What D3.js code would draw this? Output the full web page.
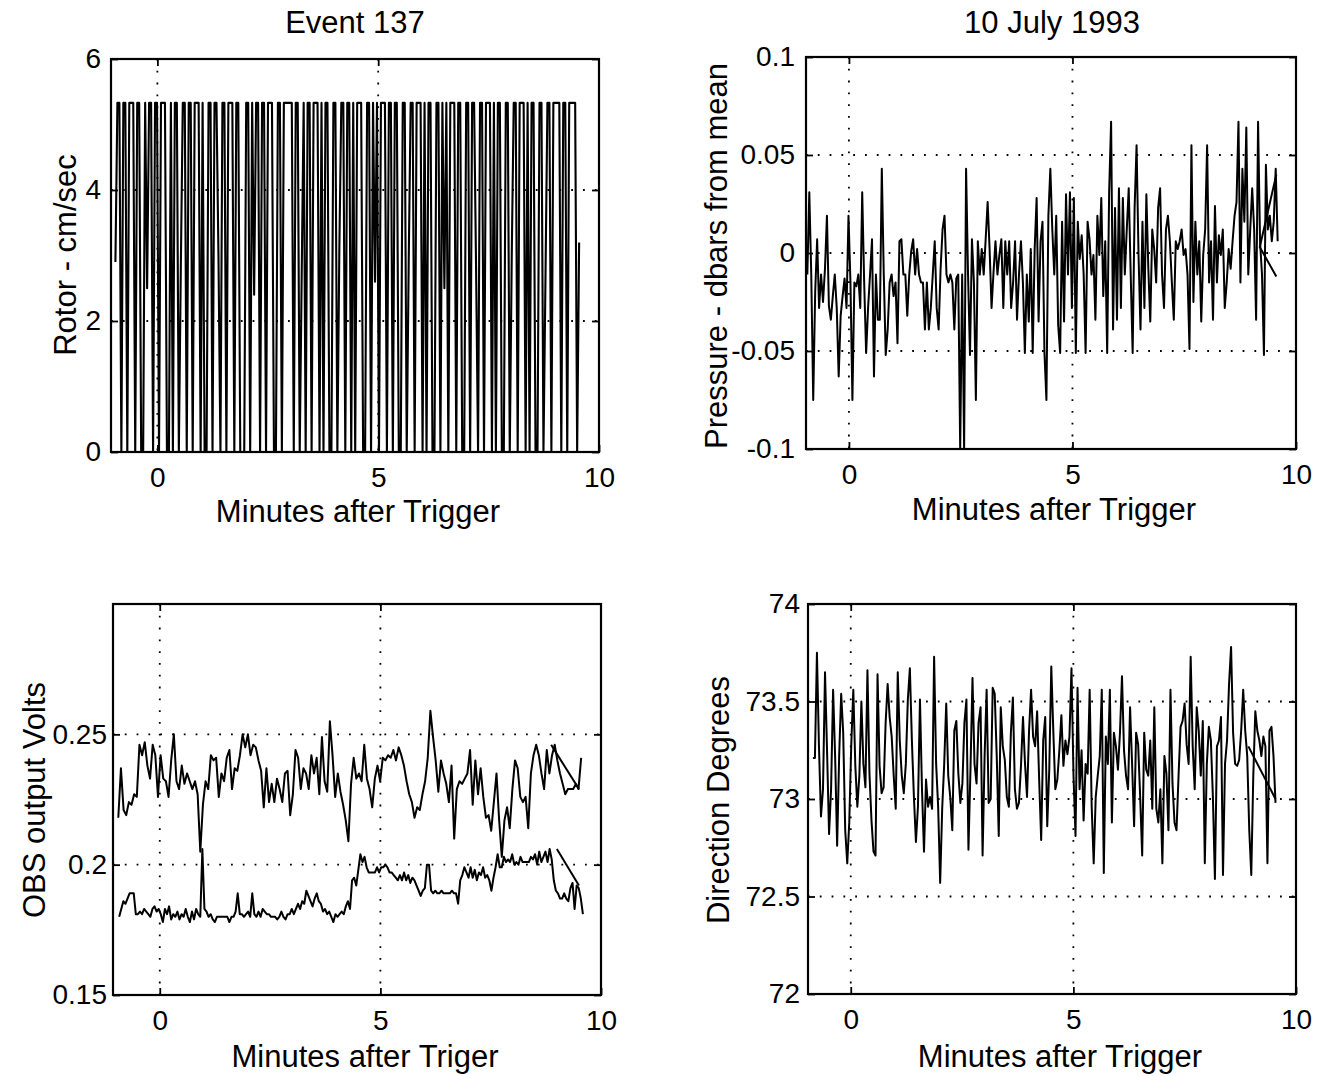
<!DOCTYPE html>
<html><head><meta charset="utf-8">
<script src="https://cdn.jsdelivr.net/npm/d3@7"></script>
<style>
body{margin:0;background:#fff}
text{font-family:"Liberation Sans",Arial,Helvetica,sans-serif;fill:#000}
</style>
</head><body>
<svg id="c" width="1330" height="1076"></svg>
<script>
// ---------------- DATA ----------------
const xTicks = [0, 5, 10];

const rotorSpan = [-0.95, 9.55];
const rotorValues = [
2.9,5.33,5.33,0,5.33,5.33,0,5.33,5.33,5.33,
0,5.33,5.33,0,0,5.33,2.5,5.33,5.33,0,
5.33,5.33,0,5.33,5.33,5.33,0,0,5.33,0,
5.33,5.33,0,2.8,5.33,5.33,0,5.33,5.33,0,
5.33,5.33,5.33,0,5.33,0,0,5.33,5.33,0,
5.33,5.33,3.0,0,5.33,5.33,0,5.33,5.33,5.33,
0,5.33,5.33,0,0,0,5.33,5.33,0,5.33,
2.4,5.33,5.33,0,5.33,5.33,0,5.33,5.33,5.33,
0,0,5.33,5.33,0,5.33,5.33,5.33,5.33,5.33,
0,5.33,5.33,0,2.7,5.33,0,5.33,5.33,0,
5.33,5.33,5.33,0,5.33,0,5.33,5.33,0,0,
5.33,5.33,0,3.1,5.33,5.33,0,5.33,5.33,0,
5.33,0,5.33,5.33,5.33,0,0,5.33,5.33,0,
5.33,2.6,5.33,0,5.33,5.33,5.33,0,5.33,5.33,
0,5.33,5.33,0,0,5.33,5.33,0,2.9,5.33,
5.33,0,5.33,5.33,5.33,0,5.33,0,5.33,5.33,
0,0,5.33,5.33,0,5.33,2.5,5.33,0,5.33,
5.33,5.33,0,5.33,5.33,0,0,5.33,5.33,0,
5.33,5.33,2.8,0,5.33,5.33,0,5.33,5.33,5.33,
0,5.33,0,5.33,5.33,0,0,5.33,5.33,0,
3.0,5.33,5.33,0,5.33,5.33,5.33,0,5.33,0,
5.33,5.33,0,0,5.33,5.33,0,2.6,5.33,5.33,
0,5.33,5.33,5.33,5.33,0,5.33,5.33,0,5.33,
5.33,5.33,5.33,0,3.2];
const rotorTicks = [0, 2, 4, 6];

const pressureSpan = [-0.93, 9.59];
const pressureValues = [
-0.011,0.031,-0.011,-0.075,-0.020,0.007,-0.028,-0.011,-0.025,-0.008,
0.019,-0.027,-0.034,-0.022,-0.011,-0.028,-0.063,-0.032,-0.022,-0.013,
-0.028,0.019,-0.015,-0.075,-0.015,-0.017,-0.011,-0.028,0.031,-0.015,
-0.051,-0.028,-0.011,0.007,-0.063,-0.011,-0.034,-0.034,0.043,-0.011,
-0.052,-0.039,-0.015,-0.011,-0.022,-0.015,-0.046,0.006,0.007,-0.011,
-0.011,-0.032,-0.011,0.001,0.007,-0.011,0.002,-0.011,-0.015,-0.015,
-0.039,-0.015,-0.039,-0.028,-0.011,0.006,-0.028,-0.039,-0.008,0.012,
0.019,-0.011,-0.015,-0.011,-0.015,-0.039,-0.013,-0.011,-0.1,-0.011,
-0.1,0.043,-0.011,-0.052,0.007,-0.015,-0.075,0.006,-0.011,0.002,
-0.011,0.007,0.026,0.002,-0.028,-0.010,0.006,-0.011,-0.001,0.007,
-0.028,0.006,-0.011,0.006,-0.028,-0.015,0.006,-0.034,-0.011,0.006,
-0.015,-0.051,-0.011,-0.035,0.002,-0.051,0.002,0.028,-0.035,0.006,
0.016,-0.051,-0.075,0.019,0.043,0.012,-0.011,0.019,-0.037,-0.051,
0.016,-0.035,0.030,-0.011,0.031,-0.028,0.028,-0.051,0.016,-0.003,
0.009,-0.011,-0.051,0.016,0.007,-0.011,-0.001,-0.034,0.019,-0.001,
0.028,-0.022,0.006,-0.051,0.031,0.067,-0.039,0.023,-0.034,0.033,
-0.028,0.028,-0.011,0.012,0.033,-0.011,-0.051,0.023,0.055,-0.001,
-0.039,0.016,-0.028,0.030,-0.008,-0.035,0.012,0.002,-0.015,0.023,
0.033,-0.011,-0.028,0.012,0.019,0.006,-0.015,-0.034,0.006,0.002,
0.006,0.012,-0.001,0.002,-0.011,-0.049,0.055,-0.025,0.016,-0.011,
0.006,-0.035,-0.001,0.012,0.055,-0.015,0.006,-0.034,0.024,-0.015,
0.009,-0.001,0.012,-0.028,-0.015,0.002,-0.008,0.006,0.019,0.026,
0.067,-0.015,0.043,0.016,0.064,-0.011,0.012,0.033,0.012,-0.034,
0.067,0.006,-0.011,-0.052,0.045,0.012,0.019,0.006,0.016,0.043,
0.006];
const pressureWrap = [[9.56,0.040],[9.19,0.003],[9.56,-0.012]];
const pressureTicks = [-0.1, -0.05, 0, 0.05, 0.1];

const obsUpperSpan = [-0.94, 9.55];
const obsUpperValues = [
0.218,0.237,0.221,0.219,0.224,0.223,0.227,0.226,0.246,0.242,
0.247,0.238,0.233,0.246,0.242,0.226,0.242,0.233,0.232,0.226,
0.240,0.250,0.232,0.229,0.238,0.231,0.235,0.232,0.229,0.232,
0.227,0.205,0.223,0.232,0.229,0.242,0.240,0.241,0.226,0.235,
0.232,0.241,0.244,0.229,0.237,0.236,0.242,0.250,0.245,0.250,
0.242,0.246,0.245,0.240,0.236,0.222,0.237,0.224,0.231,0.224,
0.233,0.229,0.224,0.235,0.236,0.219,0.227,0.244,0.241,0.229,
0.237,0.235,0.229,0.242,0.235,0.241,0.227,0.249,0.232,0.228,
0.255,0.242,0.226,0.235,0.228,0.223,0.217,0.209,0.231,0.241,
0.233,0.235,0.232,0.246,0.233,0.229,0.222,0.233,0.238,0.232,
0.241,0.240,0.242,0.241,0.244,0.240,0.245,0.242,0.238,0.232,
0.227,0.224,0.218,0.222,0.221,0.227,0.232,0.241,0.259,0.249,
0.240,0.228,0.240,0.235,0.231,0.224,0.238,0.210,0.229,0.232,
0.231,0.233,0.235,0.244,0.223,0.240,0.227,0.237,0.226,0.218,
0.219,0.213,0.224,0.235,0.217,0.203,0.217,0.222,0.214,0.229,
0.240,0.237,0.226,0.224,0.226,0.214,0.235,0.242,0.246,0.242,
0.235,0.229,0.244,0.235,0.242,0.246,0.240,0.235,0.231,0.227,
0.229,0.229,0.229,0.231,0.229,0.241];
const obsUpperWrap = [[8.87,0.246],[9.50,0.229]];

const obsLowerSpan = [-0.92, 9.59];
const obsLowerValues = [
0.180,0.183,0.186,0.185,0.187,0.189,0.189,0.189,0.181,0.181,
0.182,0.181,0.183,0.182,0.181,0.180,0.183,0.184,0.182,0.183,
0.181,0.178,0.183,0.181,0.184,0.179,0.181,0.180,0.182,0.179,
0.181,0.180,0.183,0.180,0.178,0.182,0.179,0.183,0.181,0.180,
0.206,0.183,0.182,0.180,0.181,0.179,0.178,0.180,0.180,0.180,
0.180,0.180,0.180,0.178,0.180,0.180,0.182,0.189,0.181,0.181,
0.180,0.181,0.182,0.180,0.189,0.181,0.180,0.182,0.180,0.183,
0.182,0.181,0.181,0.180,0.180,0.180,0.179,0.180,0.182,0.180,
0.179,0.181,0.181,0.183,0.181,0.183,0.185,0.183,0.186,0.185,
0.190,0.188,0.186,0.184,0.187,0.189,0.186,0.185,0.182,0.183,
0.181,0.182,0.180,0.178,0.181,0.180,0.181,0.182,0.181,0.184,
0.186,0.183,0.194,0.195,0.192,0.198,0.204,0.201,0.203,0.199,
0.197,0.197,0.197,0.197,0.199,0.197,0.199,0.199,0.200,0.199,
0.197,0.197,0.196,0.195,0.194,0.196,0.194,0.197,0.194,0.196,
0.193,0.195,0.194,0.192,0.190,0.188,0.190,0.191,0.200,0.200,
0.190,0.189,0.190,0.189,0.189,0.190,0.189,0.189,0.189,0.189,
0.190,0.189,0.189,0.185,0.194,0.196,0.199,0.197,0.195,0.199,
0.195,0.198,0.194,0.197,0.196,0.199,0.195,0.196,0.194,0.190,
0.195,0.199,0.204,0.199,0.199,0.203,0.201,0.202,0.201,0.204,
0.200,0.201,0.200,0.203,0.201,0.201,0.201,0.201,0.203,0.202,
0.204,0.200,0.205,0.201,0.203,0.205,0.201,0.206,0.202,0.194,
0.190,0.189,0.187,0.187,0.189,0.187,0.186,0.191,0.193,0.183,
0.192,0.191,0.187,0.181];
const obsLowerWrap = [[9.00,0.206],[9.50,0.192]];
const obsTicks = [0.15, 0.2, 0.25];

const directionSpan = [-0.85, 9.54];
const directionValues = [
73.21,73.21,73.75,73.27,72.91,73.05,73.65,73.25,72.82,73.05,
73.56,73.22,72.76,73.22,73.54,73.34,72.84,72.67,72.88,73.28,
73.56,73.17,72.96,73.12,73.50,73.18,73.06,73.66,73.13,72.89,
72.73,72.71,73.64,73.17,73.03,73.06,73.39,73.59,73.42,73.32,
73.12,72.95,73.65,73.30,73.12,73.03,73.18,73.51,73.67,73.30,
73.01,72.78,72.96,73.51,73.05,72.73,73.10,72.96,73.01,72.95,
73.73,73.18,72.96,72.57,72.95,73.18,73.49,73.12,73.01,72.84,
73.35,73.40,73.13,72.98,73.08,73.39,73.51,72.74,73.15,73.62,
73.18,73.08,73.39,73.47,72.71,73.22,73.56,72.98,73.00,73.57,
73.54,73.22,72.81,73.47,73.27,73.20,73.01,72.96,73.34,73.52,
73.05,72.95,72.98,73.17,73.42,73.18,73.01,73.35,73.56,73.32,
73.27,73.45,73.10,72.79,73.30,73.42,72.86,73.15,73.68,73.35,
73.05,73.10,73.25,73.43,73.17,73.30,73.23,73.32,73.67,73.12,
72.81,73.57,73.05,73.25,72.89,73.18,73.13,73.56,72.96,72.67,
73.01,73.12,73.22,73.56,72.62,73.32,73.18,73.56,72.88,73.34,
73.27,73.15,73.34,73.63,73.25,73.12,73.05,73.47,73.18,72.86,
73.34,73.28,73.01,72.71,73.34,73.15,73.12,73.30,72.95,73.47,
72.95,72.88,73.05,72.67,73.22,73.13,72.84,73.56,73.08,72.88,
72.84,73.12,73.37,73.40,73.49,73.28,73.18,73.73,73.27,73.05,
73.47,73.35,73.12,73.40,72.67,73.18,73.37,73.30,73.01,72.59,
73.27,73.30,73.42,72.61,73.18,73.30,73.59,73.78,73.34,73.18,
73.17,73.20,73.35,73.56,73.35,73.22,72.84,72.61,73.12,73.45,
73.35,73.30,73.22,73.32,73.27,72.67,73.35,73.37,73.22,72.98];
const directionWrap = [[8.93,73.27],[9.54,73.00]];
const directionTicks = [72, 72.5, 73, 73.5, 74];

// ---------------- DRAW ----------------
const svg = d3.select('#c');
const TICK_FS = 28;
const LABEL_FS = 31;

function series(values, span) {
  const n = values.length;
  return values.map((v, i) => [span[0] + i * (span[1] - span[0]) / (n - 1), v]);
}

function panel(p) {
  const g = svg.append('g');
  const x = d3.scaleLinear().domain(p.xDomain).range([p.left, p.right]);
  const y = d3.scaleLinear().domain(p.yDomain).range([p.bottom, p.top]);
  const cid = 'clip' + p.id;
  svg.append('clipPath').attr('id', cid).append('rect')
    .attr('x', p.left).attr('y', p.top)
    .attr('width', p.right - p.left).attr('height', p.bottom - p.top);

  // grid (dotted)
  g.selectAll('.gx').data(xTicks.filter(v => v > p.xDomain[0] && v < p.xDomain[1]))
    .join('line').attr('x1', d => x(d)).attr('x2', d => x(d))
    .attr('y1', p.top).attr('y2', p.bottom)
    .attr('stroke', '#000').attr('stroke-width', 1.8).attr('stroke-dasharray', '1.8,10');
  g.selectAll('.gy').data(p.yTicks.filter(v => v > p.yDomain[0] + 1e-9 && v < p.yDomain[1] - 1e-9))
    .join('line').attr('y1', d => y(d)).attr('y2', d => y(d))
    .attr('x1', p.left).attr('x2', p.right)
    .attr('stroke', '#000').attr('stroke-width', 1.8).attr('stroke-dasharray', '1.8,10');

  const line = d3.line().x(d => x(d[0])).y(d => y(d[1]));
  const lg = g.append('g').attr('clip-path', `url(#${cid})`);
  p.series.forEach(s => {
    lg.append('path').attr('d', line(series(s.values, s.span)))
      .attr('fill', 'none').attr('stroke', '#000').attr('stroke-width', p.lw || 1.8)
      .attr('stroke-linejoin', 'round');
    if (s.wrap) {
      lg.append('path').attr('d', line(s.wrap))
        .attr('fill', 'none').attr('stroke', '#000').attr('stroke-width', p.lw || 1.8);
    }
  });

  // frame
  g.append('rect').attr('x', p.left).attr('y', p.top)
    .attr('width', p.right - p.left).attr('height', p.bottom - p.top)
    .attr('fill', 'none').attr('stroke', '#000').attr('stroke-width', 2.2);

  // axes (inward ticks on all four sides)
  const fmt = d => String(d);
  const ax = (gen, tr) => {
    const a = g.append('g').attr('transform', tr).call(gen);
    a.select('.domain').remove();
    a.selectAll('line').attr('stroke', '#000').attr('stroke-width', 1.8);
    a.selectAll('text').attr('font-size', TICK_FS).attr('font-family', '"Liberation Sans",Arial,sans-serif').attr('fill', '#000');
    return a;
  };
  ax(d3.axisBottom(x).tickValues(xTicks).tickSizeInner(-7).tickSizeOuter(0).tickPadding(15).tickFormat(fmt),
     `translate(0,${p.bottom})`);
  ax(d3.axisTop(x).tickValues(xTicks.filter(v => v < p.xDomain[1])).tickSizeInner(-7).tickSizeOuter(0).tickFormat(''),
     `translate(0,${p.top})`);
  ax(d3.axisLeft(y).tickValues(p.yTicks).tickSizeInner(-7).tickSizeOuter(0).tickPadding(p.ypad).tickFormat(fmt),
     `translate(${p.left},0)`);
  ax(d3.axisRight(y).tickValues(p.yTicks).tickSizeInner(-7).tickSizeOuter(0).tickFormat(''),
     `translate(${p.right},0)`);

  // labels
  if (p.title) svg.append('text').attr('x', p.titleX).attr('y', 33)
    .attr('text-anchor', 'middle').attr('font-size', LABEL_FS).text(p.title);
  svg.append('text').attr('x', p.xlabelX).attr('y', p.xlabelY)
    .attr('text-anchor', 'middle').attr('font-size', LABEL_FS).text(p.xlabel);
  svg.append('text').attr('transform', `translate(${p.ylabelX},${p.ylabelY}) rotate(-90)`)
    .attr('text-anchor', 'middle').attr('font-size', LABEL_FS).text(p.ylabel);
}

panel({
  id: 'tl', left: 111, right: 599, top: 59, bottom: 452, ypad: 10,
  xDomain: [-1.05, 10], yDomain: [0, 6], yTicks: rotorTicks, lw: 2.1,
  series: [{values: rotorValues, span: rotorSpan}],
  title: 'Event 137', titleX: 355,
  xlabel: 'Minutes after Trigger', xlabelX: 358, xlabelY: 522,
  ylabel: 'Rotor - cm/sec', ylabelX: 76, ylabelY: 255
});
panel({
  id: 'tr', left: 806, right: 1296, top: 57, bottom: 449, ypad: 11,
  xDomain: [-0.96, 10], yDomain: [-0.1, 0.1], yTicks: pressureTicks, lw: 2,
  series: [{values: pressureValues, span: pressureSpan, wrap: pressureWrap}],
  title: '10 July 1993', titleX: 1052,
  xlabel: 'Minutes after Trigger', xlabelX: 1054, xlabelY: 520,
  ylabel: 'Pressure - dbars from mean', ylabelX: 727, ylabelY: 256
});
panel({
  id: 'bl', left: 113, right: 601, top: 604, bottom: 995, ypad: 6, lw: 2,
  xDomain: [-1.06, 10], yDomain: [0.15, 0.3], yTicks: obsTicks,
  series: [
    {values: obsUpperValues, span: obsUpperSpan, wrap: obsUpperWrap},
    {values: obsLowerValues, span: obsLowerSpan, wrap: obsLowerWrap}
  ],
  xlabel: 'Minutes after Triger', xlabelX: 365, xlabelY: 1067,
  ylabel: 'OBS output Volts', ylabelX: 45, ylabelY: 800
});
panel({
  id: 'br', left: 808, right: 1296, top: 604, bottom: 994, ypad: 8, lw: 2,
  xDomain: [-0.96, 10], yDomain: [72, 74], yTicks: directionTicks,
  series: [{values: directionValues, span: directionSpan, wrap: directionWrap}],
  xlabel: 'Minutes after Trigger', xlabelX: 1060, xlabelY: 1067,
  ylabel: 'Direction Degrees', ylabelX: 729, ylabelY: 800
});
</script>
</body></html>
